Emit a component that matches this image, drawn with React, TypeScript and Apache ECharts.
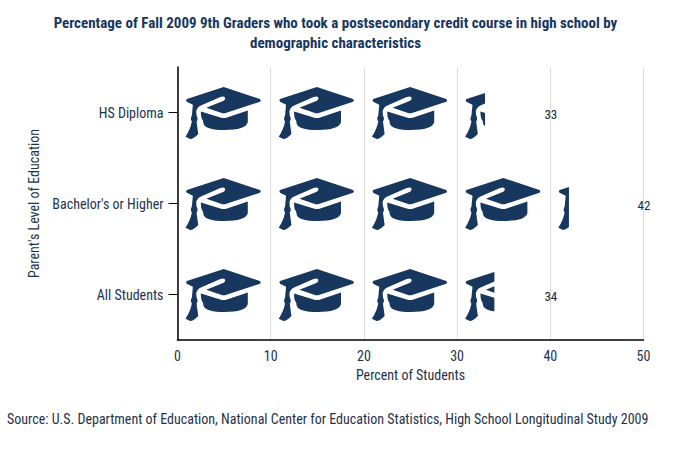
import React, { useEffect, useRef } from "react";
import * as echarts from "echarts";

const categories = ["All Students", "Bachelor's or Higher", "HS Diploma"];
const percentValues = [34, 42, 33];
const labelSlots = [40, 50, 40];
const xTicksMax = 50;
const titleLines = "Percentage of Fall 2009 9th Graders who took a postsecondary credit course in high school by\ndemographic characteristics";
const sourceText = "Source: U.S. Department of Education, National Center for Education Statistics, High School Longitudinal Study 2009";

const capPath =
  "path://M160 50 L268 86 Q273 90 268 94 L168 127 Q160 130 152 127 L108 112 L160 91 Q167 86 163 80 Q159 76 150 80 L92 105 Q80 111 78 122 L79 135 Q85 145 79 153 L84 190 Q70 205 60 205 L46 198 Q60 178 65 153 Q59 145 65 135 L68 103 L50 94 Q46 90 50 86 Z " +
  "M92 123 L150 141 Q160 144 170 141 L232 120 L232 155 Q225 178 162 178 Q108 178 100 160 L98 150 Q91 142 92 123 Z";

const navy = "#17375e";
const textColor = "#1f3347";
const fontFamily = "'Roboto Condensed', Roboto, sans-serif";

export default function App() {
  const ref = useRef<HTMLDivElement>(null);
  useEffect(() => {
    document.body.style.margin = "0";
    const chart = echarts.init(ref.current!, undefined, { renderer: "svg" });
    chart.setOption({
      animation: false,
      textStyle: { fontFamily },
      title: [
        {
          text: titleLines,
          left: 330.5,
          top: 8,
          textAlign: "center",
          textStyle: { fontFamily, fontSize: 15, fontWeight: "bold", color: navy, lineHeight: 20 },
        },
        {
          text: sourceText,
          left: 2,
          top: 407,
          textStyle: { fontFamily, fontSize: 14, fontWeight: "normal", color: textColor },
        },
      ],
      grid: { left: 177.5, right: 38.5, top: 67, bottom: 129, containLabel: false },
      xAxis: {
        type: "value",
        min: 0,
        max: xTicksMax,
        interval: 10,
        name: "Percent of Students",
        nameLocation: "middle",
        nameGap: 26,
        nameTextStyle: { fontFamily, fontSize: 14, color: textColor },
        axisLine: { show: true, lineStyle: { color: "#000", width: 1.5 } },
        axisTick: { show: false },
        axisLabel: { fontFamily, fontSize: 14, color: textColor, margin: 9, hideOverlap: false },
        splitLine: { show: true, lineStyle: { color: "#dcdcdc", width: 1 } },
      },
      yAxis: {
        type: "category",
        data: categories,
        name: "Parent's Level of Education",
        nameLocation: "middle",
        nameGap: 128,
        nameRotate: 90,
        nameTextStyle: { fontFamily, fontSize: 14, color: textColor },
        axisLine: { show: true, lineStyle: { color: "#000", width: 1.5 } },
        axisTick: { show: true, alignWithLabel: true, length: 9, lineStyle: { color: "#000", width: 1 } },
        axisLabel: { fontFamily, fontSize: 14, color: textColor, margin: 14 },
        splitLine: { show: false },
      },
      series: [
        {
          type: "pictorialBar",
          data: percentValues,
          symbol: capPath,
          symbolSize: [75, 52],
          symbolOffset: [-1, 0.5],
          symbolRepeat: true,
          symbolMargin: "9.1!",
          symbolClip: true,
          symbolBoundingData: xTicksMax,
          symbolPosition: "start",
          itemStyle: { color: navy },
          silent: true,
        },
        {
          type: "scatter",
          data: labelSlots.map((slot, i) => [slot, categories[i], percentValues[i]]),
          symbolSize: 0,
          silent: true,
          itemStyle: { opacity: 1 },
          label: {
            show: true,
            position: "inside",
            offset: [0.5, 1.5],
            formatter: (p: any) => String(p.value[2]),
            fontFamily,
            fontSize: 13,
            color: "#14283c",
            opacity: 1,
          },
        },
      ],
    });
    return () => chart.dispose();
  }, []);
  return <div ref={ref} style={{ width: 682, height: 469 }} />;
}
